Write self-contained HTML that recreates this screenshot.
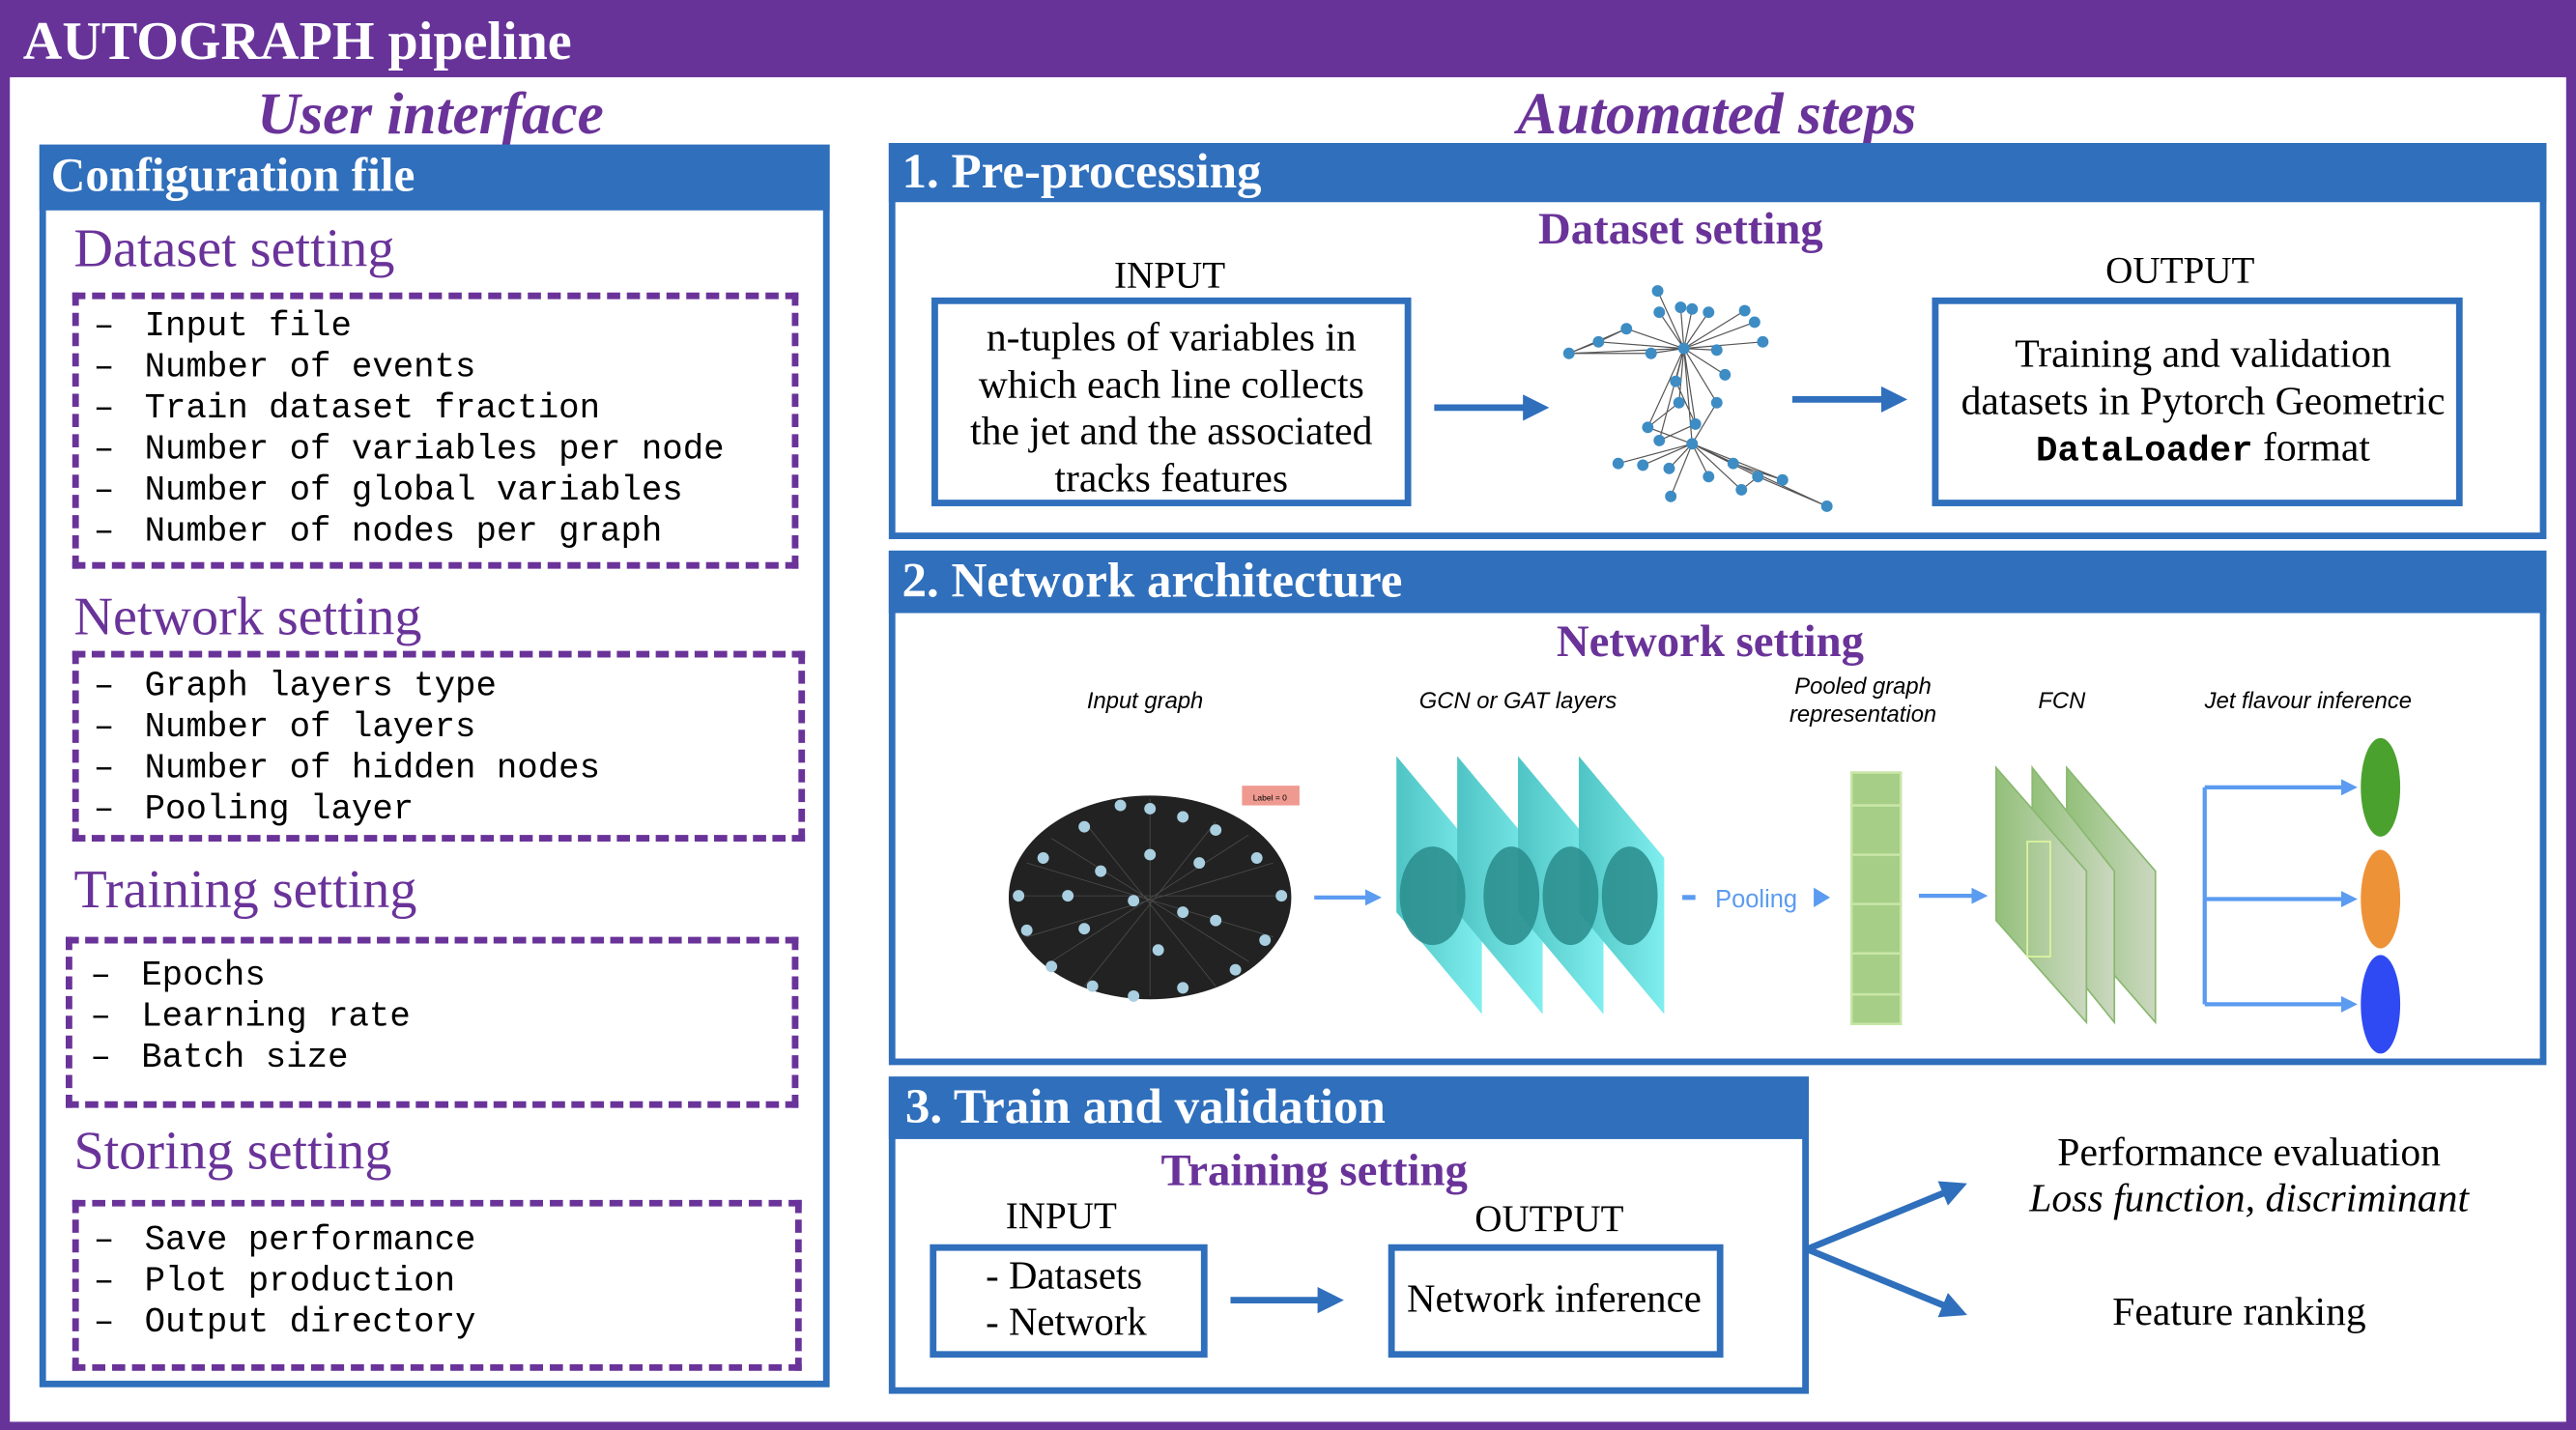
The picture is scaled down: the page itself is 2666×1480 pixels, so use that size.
<!DOCTYPE html>
<html><head><meta charset="utf-8"><style>
html,body{margin:0;padding:0;background:#fff;overflow:hidden;width:2666px;height:1480px}
#w{position:absolute;left:0;top:0;width:1568px;height:870px;transform-origin:0 0;transform:scale(1.70026,1.70115);font-family:"Liberation Serif",serif}
.a{position:absolute}
.t{position:absolute;white-space:nowrap}
.c{transform:translateX(-50%)}
.hdr{background:#2f6fbc;color:#fff;font-weight:bold;font-size:26px}
.box{position:absolute;border:4px solid #2f6fbc;box-sizing:border-box}
.pur{color:#6a3399}
.mono{font-family:"Liberation Mono",monospace;font-size:21px;line-height:25px}
.mono span{display:inline-block;width:31px}
.dash{position:absolute;border:4px dashed #6a3399;box-sizing:border-box}
</style></head><body><div id="w">
<div class="a" style="left:0;top:0;width:1568px;height:47px;background:#673399"></div>
<div class="a" style="left:0;top:0;width:6px;height:870px;background:#673399"></div>
<div class="a" style="left:1562px;top:0;width:6px;height:870px;background:#673399"></div>
<div class="a" style="left:0;top:865px;width:1568px;height:5px;background:#673399"></div>
<div class="t" style="left:14px;top:6px;font-size:33px;font-weight:bold;color:#fff;line-height:40px">AUTOGRAPH pipeline</div>
<div class="t c pur" style="left:262px;top:48px;font-size:36px;font-weight:bold;font-style:italic;line-height:42px">User interface</div>
<div class="t c pur" style="left:1045px;top:48px;font-size:36px;font-weight:bold;font-style:italic;line-height:42px">Automated steps</div>

<div class="box" style="left:24px;top:88px;width:481px;height:756px"></div>
<div class="a hdr" style="left:24px;top:88px;width:481px;height:40px"></div>
<div class="t" style="left:31px;top:88px;font-size:29px;font-weight:bold;color:#fff;line-height:38px">Configuration file</div>

<div class="t pur" style="left:45px;top:133px;font-size:33px;line-height:38px">Dataset setting</div>
<div class="dash" style="left:44px;top:178px;width:442px;height:168px"></div>
<div class="t mono" style="left:57px;top:187px"><span>–</span>Input file<br><span>–</span>Number of events<br><span>–</span>Train dataset fraction<br><span>–</span>Number of variables per node<br><span>–</span>Number of global variables<br><span>–</span>Number of nodes per graph</div>

<div class="t pur" style="left:45px;top:357px;font-size:33px;line-height:38px">Network setting</div>
<div class="dash" style="left:44px;top:396px;width:446px;height:116px"></div>
<div class="t mono" style="left:57px;top:406px"><span>–</span>Graph layers type<br><span>–</span>Number of layers<br><span>–</span>Number of hidden nodes<br><span>–</span>Pooling layer</div>

<div class="t pur" style="left:45px;top:523px;font-size:33px;line-height:38px">Training setting</div>
<div class="dash" style="left:40px;top:570px;width:446px;height:104px"></div>
<div class="t mono" style="left:55px;top:582px"><span>–</span>Epochs<br><span>–</span>Learning rate<br><span>–</span>Batch size</div>

<div class="t pur" style="left:45px;top:682px;font-size:33px;line-height:38px">Storing setting</div>
<div class="dash" style="left:44px;top:730px;width:444px;height:104px"></div>
<div class="t mono" style="left:57px;top:743px"><span>–</span>Save performance<br><span>–</span>Plot production<br><span>–</span>Output directory</div>

<div class="box" style="left:541px;top:87px;width:1009px;height:241px"></div>
<div class="a hdr" style="left:541px;top:87px;width:1009px;height:36px"></div>
<div class="t" style="left:549px;top:86px;font-size:30px;font-weight:bold;color:#fff;line-height:38px">1. Pre-processing</div>
<div class="t c pur" style="left:1023px;top:123px;font-size:27.5px;font-weight:bold;line-height:32px">Dataset setting</div>
<div class="t c" style="left:712px;top:155px;font-size:23px;line-height:26px">INPUT</div>
<div class="box" style="left:567px;top:181px;width:292px;height:127px"></div>
<div class="t c" style="left:713px;top:192px;font-size:24.5px;line-height:28.5px;text-align:center">n-tuples of variables in<br>which each line collects<br>the jet and the associated<br>tracks features</div>
<div class="t c" style="left:1327px;top:152px;font-size:23px;line-height:26px">OUTPUT</div>
<div class="box" style="left:1176px;top:181px;width:323px;height:127px"></div>
<div class="t c" style="left:1341px;top:202px;font-size:24.5px;line-height:28.5px;text-align:center">Training and validation<br>datasets in Pytorch Geometric<br><b style="font-family:'Liberation Mono',monospace;font-size:22px">DataLoader</b> format</div>

<svg class="a" style="left:0;top:0" width="1568" height="870">
<defs>
<marker id="ab" markerWidth="4" markerHeight="4" refX="2" refY="2" orient="auto" markerUnits="strokeWidth"><path d="M0,0 L4,2 L0,4 z" fill="#2f6fbc"/></marker>
<marker id="al" markerWidth="4" markerHeight="4" refX="2" refY="2" orient="auto" markerUnits="strokeWidth"><path d="M0,0 L4,2 L0,4 z" fill="#5b9bf0"/></marker>
<linearGradient id="cy" x1="0" x2="1"><stop offset="0" stop-color="#4fc4c4"/><stop offset="1" stop-color="#80eeee"/></linearGradient>
<linearGradient id="gr" x1="0" x2="1"><stop offset="0" stop-color="#93c07a"/><stop offset="1" stop-color="#cbd8c0"/></linearGradient>
</defs>
<line x1="873" y1="248" x2="935" y2="248" stroke="#2f6fbc" stroke-width="4" marker-end="url(#ab)"/>
<line x1="1091" y1="243" x2="1153" y2="243" stroke="#2f6fbc" stroke-width="4" marker-end="url(#ab)"/>
<g stroke="#555" stroke-width="0.7">
<path d="M1025,212 L1009,177 M1025,212 L1010,190 M1025,212 L1023,187 M1025,212 L1030,188 M1025,212 L1040,190 M1025,212 L1062,189 M1025,212 L1068,196 M1025,212 L1073,208 M1025,212 L990,200 M1025,212 L973,208 M1025,212 L955,215 M1025,212 L1005,215 M1025,212 L1045,213 M1025,212 L1050,228 M1025,212 L1020,232 M1025,212 L1045,245 M1025,212 L1022,245 M1025,212 L1032,258 M1025,212 L1003,260 M1025,212 L1030,270 M1025,212 L1010,268 M990,200 L955,215 M990,200 L973,208 M973,208 L955,215 M1005,215 L955,215 M1020,232 L1032,258 M1022,245 L1003,260 M1030,270 L1000,283 M1030,270 L1016,285 M1030,270 L1040,290 M1030,270 L1055,282 M1030,270 L1070,290 M1030,270 L1085,292 M1030,270 L1060,298 M1030,270 L1112,308 M1030,270 L1017,302 M1030,270 L985,282 M1070,290 L1112,308 M1055,282 L1085,292 M1060,298 L1070,290 M1045,245 L1030,270 M1010,268 L1032,258 M1003,260 L1030,270"/>
</g>
<g fill="#3d8cc4">
<circle cx="1009" cy="177" r="3.5"/><circle cx="1010" cy="190" r="3.5"/><circle cx="1023" cy="187" r="3.5"/><circle cx="1030" cy="188" r="3.5"/><circle cx="1040" cy="190" r="3.5"/><circle cx="1062" cy="189" r="3.5"/><circle cx="1068" cy="196" r="3.5"/><circle cx="1073" cy="208" r="3.5"/><circle cx="990" cy="200" r="3.5"/><circle cx="973" cy="208" r="3.5"/><circle cx="955" cy="215" r="3.5"/><circle cx="1005" cy="215" r="3.5"/><circle cx="1025" cy="212" r="3.5"/><circle cx="1045" cy="213" r="3.5"/><circle cx="1050" cy="228" r="3.5"/><circle cx="1020" cy="232" r="3.5"/><circle cx="1045" cy="245" r="3.5"/><circle cx="1022" cy="245" r="3.5"/><circle cx="1032" cy="258" r="3.5"/><circle cx="1003" cy="260" r="3.5"/><circle cx="1010" cy="268" r="3.5"/><circle cx="1030" cy="270" r="3.5"/><circle cx="1000" cy="283" r="3.5"/><circle cx="1016" cy="285" r="3.5"/><circle cx="1040" cy="290" r="3.5"/><circle cx="1055" cy="282" r="3.5"/><circle cx="1070" cy="290" r="3.5"/><circle cx="1085" cy="292" r="3.5"/><circle cx="1060" cy="298" r="3.5"/><circle cx="1112" cy="308" r="3.5"/><circle cx="1017" cy="302" r="3.5"/><circle cx="985" cy="282" r="3.5"/>
</g>

<ellipse cx="700" cy="546" rx="86" ry="62" fill="#222"/>
<g stroke="#666" stroke-width="0.5" opacity="0.6">
<path d="M620,545 L780,545 M640,510 L760,585 M640,585 L760,508 M700,486 L700,606 M660,500 L740,600 M740,500 L660,600 M625,525 L775,570 M625,570 L775,525"/>
</g>
<g fill="#a9cfe0">
<circle cx="682" cy="490" r="3.5"/><circle cx="700" cy="492" r="3.5"/><circle cx="720" cy="497" r="3.5"/><circle cx="660" cy="503" r="3.5"/><circle cx="740" cy="505" r="3.5"/><circle cx="635" cy="522" r="3.5"/><circle cx="765" cy="522" r="3.5"/><circle cx="620" cy="545" r="3.5"/><circle cx="780" cy="545" r="3.5"/><circle cx="625" cy="566" r="3.5"/><circle cx="770" cy="572" r="3.5"/><circle cx="640" cy="588" r="3.5"/><circle cx="752" cy="590" r="3.5"/><circle cx="665" cy="600" r="3.5"/><circle cx="690" cy="606" r="3.5"/><circle cx="720" cy="601" r="3.5"/><circle cx="670" cy="530" r="3.5"/><circle cx="700" cy="520" r="3.5"/><circle cx="730" cy="525" r="3.5"/><circle cx="690" cy="548" r="3.5"/><circle cx="720" cy="555" r="3.5"/><circle cx="660" cy="565" r="3.5"/><circle cx="705" cy="578" r="3.5"/><circle cx="740" cy="560" r="3.5"/><circle cx="650" cy="545" r="3.5"/>
</g>
<rect x="756" y="478" width="35" height="12" fill="#ef9a90"/>
<text x="773" y="487" font-size="5" text-anchor="middle" font-family="Liberation Sans">Label = 0</text>
<line x1="800" y1="546" x2="836" y2="546" stroke="#5b9bf0" stroke-width="2.5" marker-end="url(#al)"/>
<polygon points="850,460 902,522 902,617 850,555" fill="url(#cy)"/>
<polygon points="887,460 939,522 939,617 887,555" fill="url(#cy)"/>
<polygon points="924,460 976,522 976,617 924,555" fill="url(#cy)"/>
<polygon points="961,460 1013,522 1013,617 961,555" fill="url(#cy)"/>
<g fill="#2a8c8c" opacity="0.85">
<ellipse cx="872" cy="545" rx="20" ry="30"/><ellipse cx="920" cy="545" rx="17" ry="30"/><ellipse cx="956" cy="545" rx="17" ry="30"/><ellipse cx="992" cy="545" rx="17" ry="30"/>
</g>
<line x1="1024" y1="546" x2="1032" y2="546" stroke="#5b9bf0" stroke-width="3"/>
<text x="1044" y="552" font-size="15" fill="#5b9bf0" font-family="Liberation Sans">Pooling</text>
<path d="M1104,540 L1114,546 L1104,552 z" fill="#5b9bf0"/>
<rect x="1127" y="470" width="30" height="153" fill="#a6ce86" stroke="#c8e6a8" stroke-width="1.5"/>
<g stroke="#c8e6a8" stroke-width="1.5"><path d="M1127,490H1157M1127,520H1157M1127,550H1157M1127,580H1157M1127,605H1157"/></g>
<line x1="1168" y1="545" x2="1205" y2="545" stroke="#5b9bf0" stroke-width="2.5" marker-end="url(#al)"/>
<polygon points="1258,467 1312,530 1312,622 1258,560" fill="url(#gr)" stroke="#8ab870"/>
<polygon points="1237,467 1287,530 1287,622 1237,560" fill="url(#gr)" stroke="#8ab870"/>
<polygon points="1215,467 1270,530 1270,622 1215,560" fill="url(#gr)" stroke="#8ab870"/>
<rect x="1234" y="512" width="14" height="70" fill="none" stroke="#dff5a0" stroke-width="1"/>
<g stroke="#5b9bf0" stroke-width="2.5" fill="none">
<path d="M1342,479 V611"/>
<line x1="1342" y1="479" x2="1430" y2="479" marker-end="url(#al)"/>
<line x1="1342" y1="547" x2="1430" y2="547" marker-end="url(#al)"/>
<line x1="1342" y1="611" x2="1430" y2="611" marker-end="url(#al)"/>
</g>
<ellipse cx="1449" cy="479" rx="12" ry="30" fill="#4aa12e"/>
<ellipse cx="1449" cy="547" rx="12" ry="30" fill="#ee9238"/>
<ellipse cx="1449" cy="611" rx="12" ry="30" fill="#2f4af2"/>
<line x1="749" y1="791" x2="810" y2="791" stroke="#2f6fbc" stroke-width="4" marker-end="url(#ab)"/>
<line x1="1100" y1="760" x2="1190" y2="723" stroke="#2f6fbc" stroke-width="4" marker-end="url(#ab)"/>
<line x1="1100" y1="760" x2="1190" y2="797" stroke="#2f6fbc" stroke-width="4" marker-end="url(#ab)"/>
</svg>

<div class="box" style="left:541px;top:335px;width:1009px;height:313px"></div>
<div class="a hdr" style="left:541px;top:335px;width:1009px;height:38px"></div>
<div class="t" style="left:549px;top:335px;font-size:30px;font-weight:bold;color:#fff;line-height:38px">2. Network architecture</div>
<div class="t c pur" style="left:1041px;top:374px;font-size:27.5px;font-weight:bold;line-height:32px">Network setting</div>
<div class="t c" style="left:697px;top:417px;font:italic 14px 'Liberation Sans',sans-serif;line-height:18px">Input graph</div>
<div class="t c" style="left:924px;top:417px;font:italic 14px 'Liberation Sans',sans-serif;line-height:18px">GCN or GAT layers</div>
<div class="t c" style="left:1134px;top:409px;font:italic 14px 'Liberation Sans',sans-serif;line-height:17px;text-align:center">Pooled graph<br>representation</div>
<div class="t c" style="left:1255px;top:417px;font:italic 14px 'Liberation Sans',sans-serif;line-height:18px">FCN</div>
<div class="t c" style="left:1405px;top:417px;font:italic 14px 'Liberation Sans',sans-serif;line-height:18px">Jet flavour inference</div>

<div class="box" style="left:541px;top:655px;width:560px;height:193px"></div>
<div class="a hdr" style="left:541px;top:655px;width:560px;height:38px"></div>
<div class="t" style="left:551px;top:655px;font-size:30px;font-weight:bold;color:#fff;line-height:38px">3. Train and validation</div>
<div class="t c pur" style="left:800px;top:696px;font-size:27.5px;font-weight:bold;line-height:32px">Training setting</div>
<div class="t c" style="left:646px;top:727px;font-size:23px;line-height:26px">INPUT</div>
<div class="box" style="left:566px;top:757px;width:169px;height:69px"></div>
<div class="t" style="left:600px;top:763px;font-size:24px;line-height:28px">- Datasets<br>- Network</div>
<div class="t c" style="left:943px;top:729px;font-size:23px;line-height:26px">OUTPUT</div>
<div class="box" style="left:845px;top:757px;width:204px;height:69px"></div>
<div class="t c" style="left:946px;top:777px;font-size:24px;line-height:28px">Network inference</div>
<div class="t c" style="left:1369px;top:688px;font-size:24.5px;line-height:28px;text-align:center">Performance evaluation<br><i>Loss function, discriminant</i></div>
<div class="t c" style="left:1363px;top:785px;font-size:24.5px;line-height:28px">Feature ranking</div>
</div></body></html>
